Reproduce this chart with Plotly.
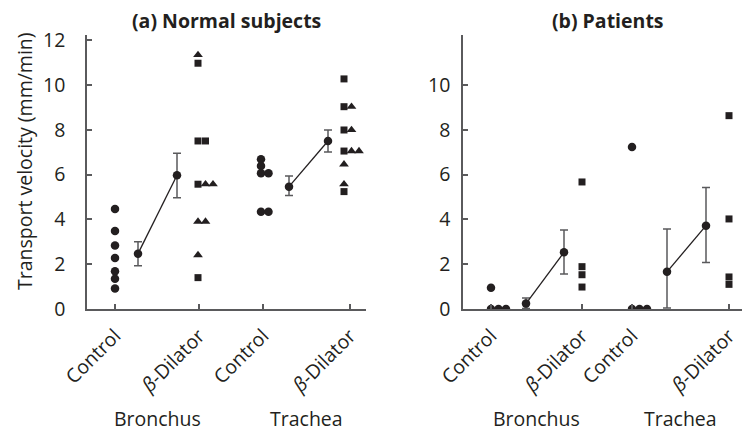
import plotly.graph_objects as go

# ---------------- data ----------------
group_labels = ["Control", "<i>β</i>-Dilator", "Control", "<i>β</i>-Dilator"]
site_labels = ["Bronchus", "Trachea"]
panel_titles = ["<b>(a) Normal subjects</b>", "<b>(b) Patients</b>"]
y_title = "Transport velocity (mm/min)"

# Panel (a) Normal subjects: individual values
a_bron_ctrl = [4.46, 3.48, 2.83, 2.28, 1.68, 1.35, 0.92]
a_bron_beta_sq = [10.97, 7.50, 7.50, 5.57, 1.40]
a_bron_beta_tri = [11.34, 5.57, 5.57, 3.90, 3.90, 2.41]
a_trach_ctrl = [6.68, 6.38, 6.06, 6.06, 4.34, 4.34]
a_trach_beta_sq = [10.27, 9.03, 7.99, 7.05, 5.24]
a_trach_beta_tri = [9.03, 7.99, 7.05, 7.05, 6.46, 5.57]
# Panel (a) means and error bars (Ctrl B, Beta B, Ctrl T, Beta T)
a_means = [2.47, 5.97, 5.46, 7.50]
a_err_up = [0.53, 0.98, 0.48, 0.49]
a_err_down = [0.54, 1.00, 0.39, 0.49]

# Panel (b) Patients: individual values
b_bron_ctrl = [0.95, 0.0, 0.0, 0.0]
b_bron_beta_sq = [5.67, 1.89, 1.53, 0.98]
b_trach_ctrl = [7.23, 0.0, 0.0, 0.0]
b_trach_beta_sq = [8.63, 4.02, 1.43, 1.10]
# Panel (b) means and error bars
b_means = [0.24, 2.53, 1.66, 3.72]
b_err_up = [0.25, 1.00, 1.91, 1.70]
b_err_down = [0.22, 0.97, 1.62, 1.65]

y_ticks_a = [0, 2, 4, 6, 8, 10, 12]
y_ticks_b = [0, 2, 4, 6, 8, 10]

# ---------------- layout constants (positions on each x scale, 1 unit = 1 px) ----------------
A_TICKS = [28, 112, 176, 263]
A_MEAN_X = [51, 90, 202, 241]
A_COL_BASE = [28, 111, 174, 257]
B_TICKS = [28, 119, 169, 266]
B_MEAN_X = [63, 101, 204, 243]
B_COL_BASE = [28, 119, 169, 266]
STEP = 7.5

INK = "#231f20"
AXC = "#5a5a5c"
FONT = "Open Sans"
FS = 19.5

SYM = {"circle": ("circle", 8.5), "square": ("square", 7), "triangle": ("triangle-up", 8.5)}


def place(groups, base):
    rows = {}
    out = []
    for sym, vals in groups:
        xs = []
        for v in vals:
            k = round(v, 2)
            n = rows.get(k, 0)
            xs.append(base + n * STEP)
            rows[k] = n + 1
        out.append((sym, xs, vals))
    return out


fig = go.Figure()


def add_points(groups, base, xa, ya):
    for sym, xs, vals in place(groups, base):
        s, size = SYM[sym]
        fig.add_trace(go.Scatter(
            x=xs, y=vals, mode="markers", xaxis=xa, yaxis=ya,
            marker=dict(symbol=s, size=size, color=INK, line=dict(width=0)),
            showlegend=False, hoverinfo="y"))


def add_means(mx, means, up, down, xa, ya):
    for i in (0, 2):
        fig.add_trace(go.Scatter(
            x=mx[i:i + 2], y=means[i:i + 2], mode="lines+markers", xaxis=xa, yaxis=ya,
            line=dict(color=INK, width=1.3),
            marker=dict(symbol="circle", size=8.5, color=INK),
            error_y=dict(type="data", array=up[i:i + 2], arrayminus=down[i:i + 2],
                         color=AXC, thickness=1.5, width=4),
            showlegend=False, hoverinfo="y"))


# panel (a)
add_points([("circle", a_bron_ctrl)], A_COL_BASE[0], "x", "y")
add_points([("square", a_bron_beta_sq), ("triangle", a_bron_beta_tri)], A_COL_BASE[1], "x", "y")
add_points([("circle", a_trach_ctrl)], A_COL_BASE[2], "x", "y")
add_points([("square", a_trach_beta_sq), ("triangle", a_trach_beta_tri)], A_COL_BASE[3], "x", "y")
add_means(A_MEAN_X, a_means, a_err_up, a_err_down, "x", "y")

# panel (b)
add_points([("circle", b_bron_ctrl)], B_COL_BASE[0], "x2", "y2")
add_points([("square", b_bron_beta_sq)], B_COL_BASE[1], "x2", "y2")
add_points([("circle", b_trach_ctrl)], B_COL_BASE[2], "x2", "y2")
add_points([("square", b_trach_beta_sq)], B_COL_BASE[3], "x2", "y2")
add_means(B_MEAN_X, b_means, b_err_up, b_err_down, "x2", "y2")

W, H = 750, 432
ML, MR, MT, MB = 79, 5, 27, 131
PW = W - ML - MR
PH = H - MT - MB
A_W = 279
B_START = 455 - ML
B_W = PW - B_START

tickfont = dict(family=FONT, size=FS, color=INK)
common_x = dict(showline=True, linecolor=AXC, linewidth=1.5, ticks="inside", ticklen=5,
                tickcolor=AXC, tickwidth=1.5, showgrid=False, zeroline=False,
                tickangle=-45, tickfont=tickfont, tickmode="array", ticktext=group_labels,
                ticklabelstandoff=6)
common_y = dict(showline=True, linecolor=AXC, linewidth=1.5, ticks="inside", ticklen=5,
                tickcolor=AXC, tickwidth=1.5, showgrid=False, zeroline=False,
                range=[0, 12.23], tickfont=tickfont, tickmode="array")

fig.update_layout(
    width=W, height=H,
    margin=dict(l=ML, r=MR, t=MT, b=MB, pad=0),
    paper_bgcolor="white", plot_bgcolor="white",
    font=dict(family=FONT, color=INK),
    xaxis=dict(domain=[0, A_W / PW], range=[0, A_W], tickvals=A_TICKS, anchor="y", **common_x),
    yaxis=dict(domain=[0, 1], anchor="x", tickvals=y_ticks_a, ticklabelstandoff=16, **common_y),
    xaxis2=dict(domain=[B_START / PW, 1], range=[0, B_W], tickvals=B_TICKS, anchor="y2", **common_x),
    yaxis2=dict(domain=[0, 1], anchor="x2", tickvals=y_ticks_b, ticklabelstandoff=7, **common_y),
)

ann = []
title_y = 1 + (MT - 13) / PH
for xr, t in (("x domain", panel_titles[0]), ("x2 domain", panel_titles[1])):
    ann.append(dict(text=t, xref=xr, yref="paper", x=0.5, y=title_y,
                    showarrow=False, xanchor="center", yanchor="middle",
                    font=dict(family=FONT, size=FS, color=INK)))
site_y = -(410 - (MT + PH)) / PH
for xr, ticks in (("x", A_TICKS), ("x2", B_TICKS)):
    for j, site in enumerate(site_labels):
        ann.append(dict(text=site, xref=xr, yref="paper", x=(ticks[2 * j] + ticks[2 * j + 1]) / 2, y=site_y,
                        showarrow=False, xanchor="center", yanchor="middle",
                        font=dict(family=FONT, size=FS, color=INK)))
ann.append(dict(text=y_title, xref="paper", yref="paper", x=(16 - ML) / PW, y=(MT + PH - 153) / PH,
                textangle=-90, showarrow=False, xanchor="center", yanchor="middle",
                font=dict(family=FONT, size=FS, color=INK)))
fig.update_layout(annotations=ann)

fig.write_html("out.html")
